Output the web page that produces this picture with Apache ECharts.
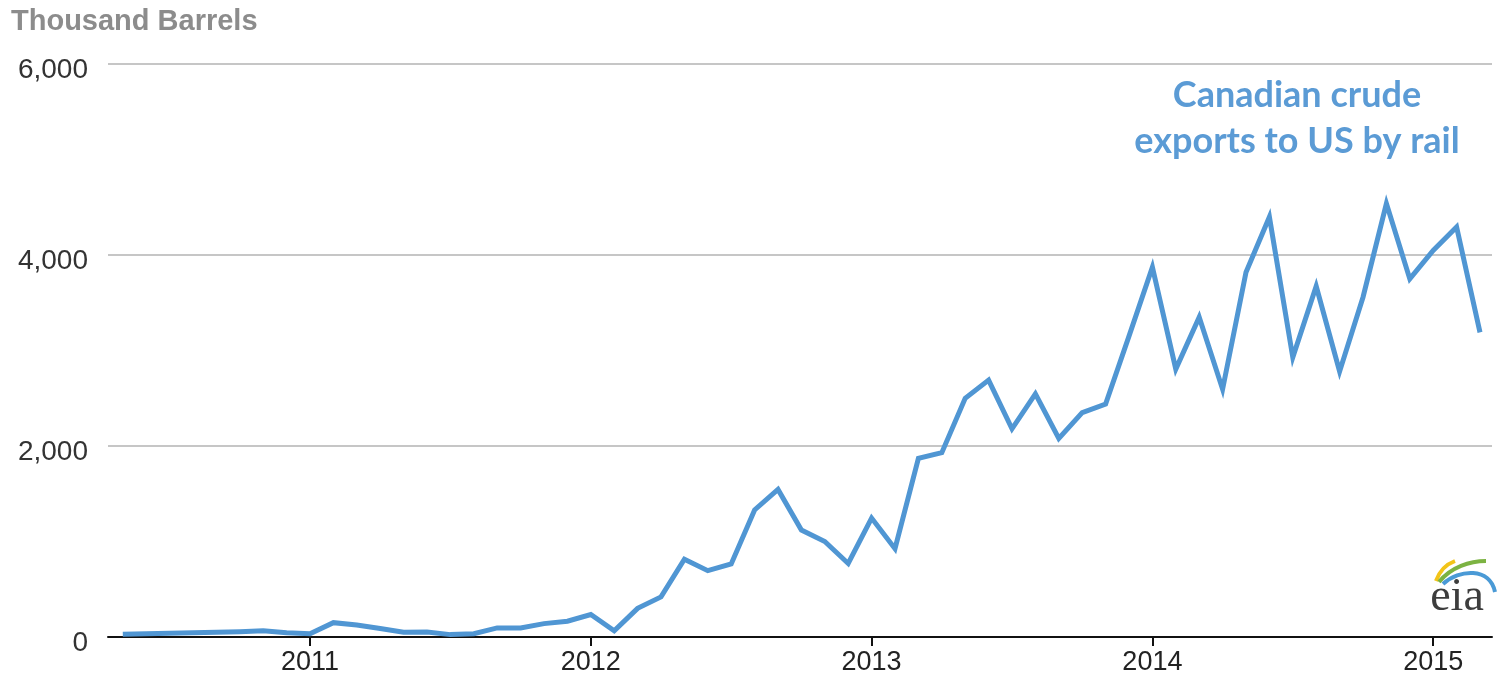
<!DOCTYPE html>
<html>
<head>
<meta charset="utf-8">
<script src="https://cdn.jsdelivr.net/npm/echarts@6/dist/echarts.min.js"></script>
<style>html,body{margin:0;padding:0;background:#fff}#c{width:1498px;height:678px}</style>
</head>
<body>
<div id="c"></div>
<script>
const months = ['2010-05','2010-06','2010-07','2010-08','2010-09','2010-10','2010-11','2010-12',
'2011-01','2011-02','2011-03','2011-04','2011-05','2011-06','2011-07','2011-08','2011-09','2011-10','2011-11','2011-12',
'2012-01','2012-02','2012-03','2012-04','2012-05','2012-06','2012-07','2012-08','2012-09','2012-10','2012-11','2012-12',
'2013-01','2013-02','2013-03','2013-04','2013-05','2013-06','2013-07','2013-08','2013-09','2013-10','2013-11','2013-12',
'2014-01','2014-02','2014-03','2014-04','2014-05','2014-06','2014-07','2014-08','2014-09','2014-10','2014-11','2014-12',
'2015-01','2015-02','2015-03'];
const exportsByRail = [30,35,40,45,50,55,65,45,
35,150,125,88,50,52,25,35,95,95,140,165,
235,65,300,420,815,695,765,1330,1545,1120,1000,770,
1245,925,1870,1930,2500,2690,2180,2545,2080,2350,2440,3150,
3873,2805,3348,2595,3820,4398,2928,3673,2780,3558,4538,3750,
4047,4293,3190];
const yearTicks = [2011,2012,2013,2014,2015];
const seriesName = 'Canadian crude exports to US by rail';

const toYear = m => { const [y, mo] = m.split('-').map(Number); return y + (mo - 1) / 12; };
const data = months.map((m, i) => [toYear(m), exportsByRail[i]]);

const chart = echarts.init(document.getElementById('c'), null, {renderer: 'canvas'});
chart.setOption({
  animation: false,
  backgroundColor: '#fff',
  title: {
    text: 'Thousand Barrels', left: 6, top: 2,
    textStyle: {fontFamily: 'Liberation Sans', fontWeight: 'bold', fontSize: 29, color: '#8c8c8c'}
  },
  grid: {left: 108, right: 6, top: 64, bottom: 41, containLabel: false},
  xAxis: {
    type: 'value', min: 2010.2806, max: 2015.2094,
    axisLine: {show: true, onZero: true, lineStyle: {color: '#111', width: 2}},
    axisTick: {show: true, customValues: yearTicks, length: 9, lineStyle: {color: '#111', width: 2}},
    axisLabel: {customValues: yearTicks, formatter: v => String(Math.round(v)), fontFamily: 'Liberation Sans', fontSize: 27, color: '#222', margin: 12},
    splitLine: {show: false}
  },
  yAxis: {
    type: 'value', min: 0, max: 6000, interval: 2000,
    axisLine: {show: false}, axisTick: {show: false},
    axisLabel: {formatter: v => v.toLocaleString('en-US'), fontFamily: 'Liberation Sans', fontSize: 28, color: '#333', margin: 20, verticalAlign: 'top', lineHeight: 12},
    splitLine: {lineStyle: {color: '#c6c6c6', width: 2}}
  },
  series: [{
    name: seriesName, type: 'line', data: data, showSymbol: false, symbol: 'none',
    lineStyle: {color: '#5096d3', width: 5, join: 'miter'}
  }],
  graphic: [
    {type: 'text', x: 1297, y: 95, style: {text: 'Canadian crude', fill: '#5b9bd5', font: 'bold 36px Lato', align: 'center', verticalAlign: 'middle'}},
    {type: 'text', x: 1297, y: 141, style: {text: 'exports to US by rail', fill: '#5b9bd5', font: 'bold 36px Lato', align: 'center', verticalAlign: 'middle'}},
    {type: 'text', x: 1457, y: 598, style: {text: 'eia', fill: '#3d3d3d', font: '46px "Liberation Serif"', align: 'center', verticalAlign: 'middle'}},
    {type: 'bezierCurve', shape: {x1: 1436, y1: 581, x2: 1455, y2: 561, cpx1: 1440, cpy1: 569, cpx2: 1447, cpy2: 564}, style: {stroke: '#f2c419', lineWidth: 4, fill: null}},
    {type: 'bezierCurve', shape: {x1: 1439, y1: 582, x2: 1486, y2: 561, cpx1: 1451, cpy1: 567, cpx2: 1470, cpy2: 561}, style: {stroke: '#7cb342', lineWidth: 4, fill: null}},
    {type: 'bezierCurve', shape: {x1: 1443, y1: 584, x2: 1495, y2: 592, cpx1: 1459, cpy1: 569, cpx2: 1490, cpy2: 567}, style: {stroke: '#4a9ad6', lineWidth: 4, fill: null}}
  ]
});
</script>
</body>
</html>
